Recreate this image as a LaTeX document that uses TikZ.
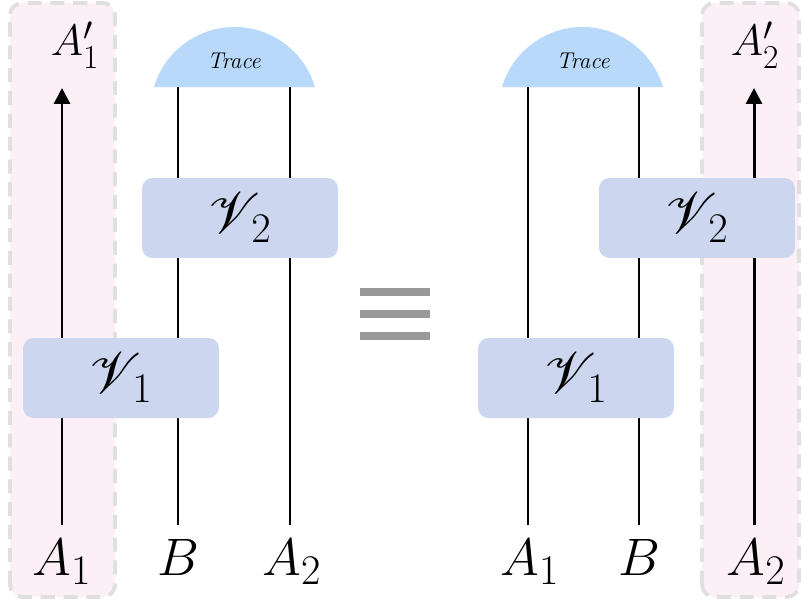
\RequirePackage{fix-cm}
\documentclass[tikz,border=0pt]{standalone}
\usepackage{amsmath}
\usepackage{mathrsfs}
\usetikzlibrary{arrows.meta}
\DeclareFontFamily{U}{rsfs}{\skewchar\font127 }
\DeclareFontShape{U}{rsfs}{m}{n}{<-6> rsfs5 <6-8> rsfs7 <8-> rsfs10}{}
\DeclareMathSizes{30}{30}{24}{18}
\DeclareMathSizes{33}{33}{24}{18}
\DeclareMathSizes{25}{25}{19}{14}
\definecolor{boxblue}{HTML}{CCD6EF}
\definecolor{traceblue}{HTML}{B8D9F9}
\definecolor{panelpink}{HTML}{FCF0F6}
\definecolor{dashgray}{HTML}{E0E0E0}
\definecolor{eqgray}{HTML}{999999}
\newcommand{\biglabel}{\fontsize{30}{34}\selectfont}
\newcommand{\gatelabel}{\fontsize{33}{37}\selectfont}
\newcommand{\toplabel}{\fontsize{25}{29}\selectfont}

\begin{document}
\begin{tikzpicture}[x=0.02cm, y=0.02cm,
        panel/.style={draw=dashgray, line width=2.2pt, dash pattern=on 8pt off 5pt, fill=panelpink, rounded corners=7pt},
        wire/.style={line width=0.6pt},
        leg/.style={line width=1.7pt, -{Triangle[length=9pt, width=9pt]}},
        gate/.style={fill=boxblue, rounded corners=6pt, minimum width=3.92cm, minimum height=1.6cm, inner sep=0pt},
        trace/.style={fill=traceblue},
        eqbar/.style={draw=eqgray, line width=4.5pt}]
        \useasboundingbox (0,0) rectangle (803,603);
        % highlighted panels
        \draw[panel] (10,6) rectangle (115,600);
        \draw[panel] (702,6) rectangle (799,600);

        % left hand side
        \fill[trace] (154,516) arc (163.4:16.6:84) -- cycle;
        \node (trL) at (234,542) {\fontsize{13}{15}\selectfont\itshape Trace};
        \coordinate (a1L) at (62,78);   \coordinate (a1Lt) at (62,515);
        \coordinate (bL) at (178,78);   \coordinate (bLt) at (178,516);
        \coordinate (a2L) at (290,78);  \coordinate (a2Lt) at (290,516);
        \draw[leg] (a1L) -- (a1Lt);
        \draw[wire] (bL) -- (bLt);
        \draw[wire] (a2L) -- (a2Lt);
        \node[gate] (v2L) at (240,385) {\gatelabel$\mathscr{V}_{\,2}$};
        \node[gate] (v1L) at (121,225) {\gatelabel$\mathscr{V}_{\,1}$};
        \node[anchor=base] (la1) at (62,28) {\biglabel$A_1$};
        \node[anchor=base] (lb) at (178,28) {\biglabel$B$};
        \node[anchor=base] (la2) at (292,28) {\biglabel$A_2$};
        \node[anchor=base] (la1p) at (75,547) {\toplabel$A'_1$};

        % equals sign
        \coordinate (eqW) at (360,289); \coordinate (eqE) at (430,289);
        \draw[eqbar] ([yshift=0.44cm]eqW) -- ([yshift=0.44cm]eqE);
        \draw[eqbar] (eqW) -- (eqE);
        \draw[eqbar] ([yshift=-0.44cm]eqW) -- ([yshift=-0.44cm]eqE);

        % right hand side
        \fill[trace] (502,516) arc (163.4:16.6:84) -- cycle;
        \node (trR) at (583,542) {\fontsize{13}{15}\selectfont\itshape Trace};
        \coordinate (a1R) at (528,78);  \coordinate (a1Rt) at (528,516);
        \coordinate (bR) at (639,78);   \coordinate (bRt) at (639,516);
        \coordinate (a2R) at (754,78);  \coordinate (a2Rt) at (754,515);
        \draw[wire] (a1R) -- (a1Rt);
        \draw[wire] (bR) -- (bRt);
        \draw[leg] (a2R) -- (a2Rt);
        \node[gate] (v2R) at (697,385) {\gatelabel$\mathscr{V}_{\,2}$};
        \node[gate] (v1R) at (576,225) {\gatelabel$\mathscr{V}_{\,1}$};
        \node[anchor=base] (ra1) at (530,28) {\biglabel$A_1$};
        \node[anchor=base] (rb) at (639,28) {\biglabel$B$};
        \node[anchor=base] (ra2) at (756,28) {\biglabel$A_2$};
        \node[anchor=base] (ra2p) at (755,547) {\toplabel$A'_2$};
    \end{tikzpicture}
\end{document}
